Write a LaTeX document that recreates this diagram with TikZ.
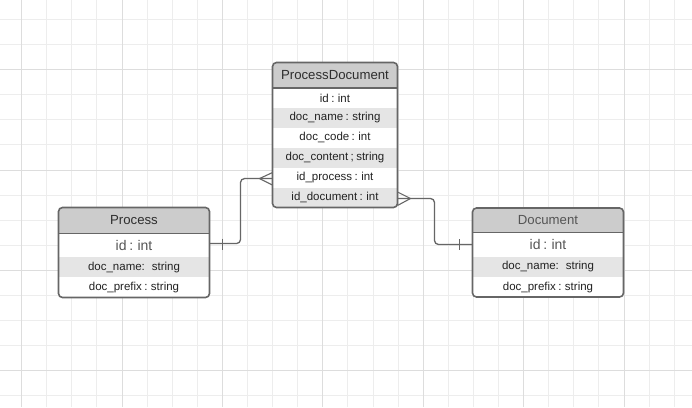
\documentclass[tikz,border=0pt]{standalone}
\usepackage{fontspec}
\setmainfont[WordSpace=0.75]{Liberation Sans}
\definecolor{gridminor}{HTML}{EDEDED}
\definecolor{gridmajor}{HTML}{DDDDDD}
\definecolor{edge}{HTML}{666666}
\definecolor{headfill}{HTML}{CCCCCC}
\definecolor{rowfill}{HTML}{E5E5E5}
\definecolor{txtdark}{HTML}{222222}
\definecolor{txthead}{HTML}{2E2E2E}
\definecolor{txtlight}{HTML}{555555}
\begin{document}
\begin{tikzpicture}[x=1pt,y=-1pt,
  cell/.style={inner sep=0pt, outer sep=0pt, anchor=north west, text=txtdark,
    font=\fontsize{11.5}{13}\selectfont},
  head/.style={cell, fill=headfill, text=txthead, font=\fontsize{13.2}{15}\selectfont},
  bigrow/.style={cell, text=txtlight, font=\fontsize{14}{16}\selectfont},
  shade/.style={fill=rowfill},
  frame/.style={draw=edge, line width=1.6pt, rounded corners=4pt, inner sep=0pt,
    outer sep=0pt, anchor=north west},
  sep/.style={draw=edge, line width=1.4pt},
  conn/.style={draw=edge, line width=1.3pt, rounded corners=4pt},
  foot/.style={draw=edge, line width=1.1pt},
]
\useasboundingbox[fill=white] (0,0) rectangle (692,407);
% grid
\foreach \k in {0,...,26}{\draw[gridminor, line width=0.8pt] (21.5+25.1*\k,0) -- (21.5+25.1*\k,407);}
\foreach \k in {0,...,15}{\draw[gridminor, line width=0.8pt] (0,19.3+25.1*\k) -- (692,19.3+25.1*\k);}
\foreach \k in {0,4,...,24}{\draw[gridmajor, line width=0.8pt] (21.5+25.1*\k,0) -- (21.5+25.1*\k,407);}
\foreach \k in {2,6,10,14}{\draw[gridmajor, line width=0.8pt] (0,19.3+25.1*\k) -- (692,19.3+25.1*\k);}

% ---------------- ProcessDocument
\begin{scope}
\clip[rounded corners=4pt] (272.5,62.5) rectangle (397.5,207.5);
\fill[white] (272.5,62.5) rectangle (397.5,207.5);
\node[head, minimum width=125pt, minimum height=25.5pt] (pdh) at (272.5,62.5) {ProcessDocument};
\node[cell, minimum width=125pt, minimum height=19.9pt] (pdid) at (272.5,88) {id : int};
\node[cell, shade, minimum width=125pt, minimum height=19.9pt] (pdname) at (272.5,107.9) {doc\_name : string};
\node[cell, minimum width=125pt, minimum height=19.9pt] (pdcode) at (272.5,127.8) {doc\_code : int};
\node[cell, shade, minimum width=125pt, minimum height=19.9pt] (pdcont) at (272.5,147.7) {doc\_content ; string};
\node[cell, minimum width=125pt, minimum height=19.9pt] (pdidp) at (272.5,167.6) {id\_process : int};
\node[cell, shade, minimum width=125pt, minimum height=20pt] (pdidd) at (272.5,187.5) {id\_document : int};
\end{scope}
\node[frame, minimum width=125pt, minimum height=145pt] (pd) at (272.5,62.5) {};
\draw[sep] (pdh.south west) -- (pdh.south east);

% ---------------- Process
\begin{scope}
\clip[rounded corners=4pt] (58.5,207.5) rectangle (209.5,297.5);
\fill[white] (58.5,207.5) rectangle (209.5,297.5);
\node[head, minimum width=151pt, minimum height=25.8pt] (prh) at (58.5,207.5) {Process};
\node[bigrow, minimum width=151pt, minimum height=23.7pt] (prid) at (58.5,233.3) {id : int};
\node[cell, shade, minimum width=151pt, minimum height=20.3pt] (prname) at (58.5,257) {doc\_name:\hspace{0.6em}string};
\node[cell, minimum width=151pt, minimum height=20.2pt] (prpref) at (58.5,277.3) {doc\_prefix : string};
\end{scope}
\node[frame, minimum width=151pt, minimum height=90pt] (pr) at (58.5,207.5) {};
\draw[sep] (prh.south west) -- (prh.south east);

% ---------------- Document
\begin{scope}
\clip[rounded corners=4pt] (472.5,208) rectangle (623.5,297);
\fill[white] (472.5,208) rectangle (623.5,297);
\node[head, text=txtlight, minimum width=151pt, minimum height=24.7pt] (doh) at (472.5,208) {Document};
\node[bigrow, minimum width=151pt, minimum height=24pt] (doid) at (472.5,232.7) {id : int};
\node[cell, shade, minimum width=151pt, minimum height=20.6pt] (doname) at (472.5,256.7) {doc\_name:\hspace{0.6em}string};
\node[cell, minimum width=151pt, minimum height=19.7pt] (dopref) at (472.5,277.3) {doc\_prefix : string};
\end{scope}
\node[frame, minimum width=151pt, minimum height=89pt] (do) at (472.5,208) {};
\draw[sep] (doh.south west) -- (doh.south east);

% ---------------- connectors
\draw[conn] ([yshift=1.6pt]prid.east) -- ++(31,0) |- ([yshift=-1pt]pdidp.west);
\draw[foot] ([xshift=-13pt,yshift=-1pt]pdidp.west) -- ([yshift=5pt]pdidp.west);
\draw[foot] ([xshift=-13pt,yshift=-1pt]pdidp.west) -- ([yshift=-7.5pt]pdidp.west);
\draw[foot] ([xshift=13.2pt,yshift=6.6pt]prid.east) -- ++(0,11);

\draw[conn] ([yshift=-1pt]pdidd.east) -- ++(37,0) |- ([yshift=0.2pt]doid.west);
\draw[foot] ([xshift=13pt,yshift=-1pt]pdidd.east) -- ([yshift=5.5pt]pdidd.east);
\draw[foot] ([xshift=13pt,yshift=-1pt]pdidd.east) -- ([yshift=-8pt]pdidd.east);
\draw[foot] ([xshift=-13.2pt,yshift=5.7pt]doid.west) -- ++(0,11);
\end{tikzpicture}
\end{document}
